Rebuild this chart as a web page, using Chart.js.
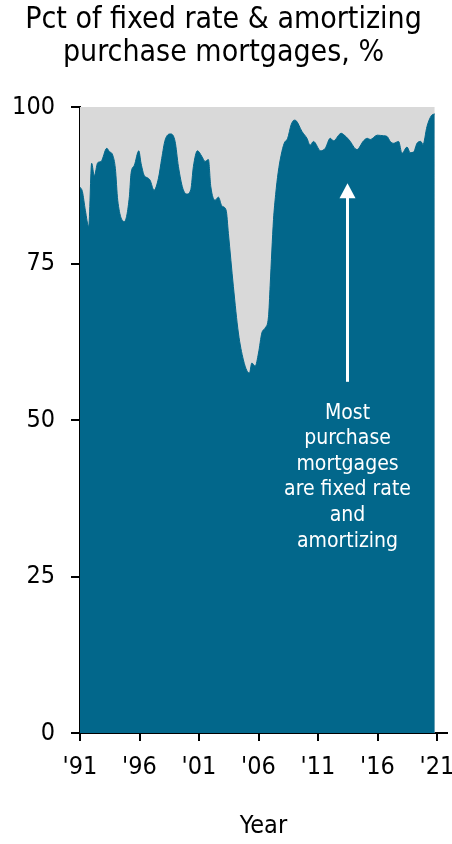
<!DOCTYPE html>
<html>
<head>
<meta charset="utf-8">
<script src="https://cdn.jsdelivr.net/npm/chart.js@4"></script>
<style>
  html, body { margin: 0; padding: 0; background: #fff; }
  #chart { display: block; }
</style>
</head>
<body>
<canvas id="chart" width="452" height="844"></canvas>
<script>
// Share of purchase mortgages that are fixed rate & amortizing
const years = [
  1991.0, 1991.2, 1991.45, 1991.73, 1991.98, 1992.2, 1992.49, 1992.77, 1993.25, 1993.46,
  1993.75, 1993.97, 1994.17, 1994.73, 1995.15, 1995.29, 1995.57, 1995.94, 1996.13, 1996.41,
  1996.66, 1996.89, 1997.22, 1997.59, 1997.87, 1998.15, 1998.63, 1998.99, 1999.27, 1999.64,
  1999.97, 2000.31, 2000.53, 2000.87, 2001.24, 2001.51, 2001.79, 2001.99, 2002.35, 2002.63,
  2002.92, 2003.28, 2003.47, 2003.89, 2004.31, 2004.73, 2005.02, 2005.24, 2005.44, 2005.72,
  2006.0, 2006.28, 2006.56, 2006.84, 2006.98, 2007.12, 2007.26, 2007.44, 2007.65, 2007.9,
  2008.16, 2008.45, 2008.75, 2009.0, 2009.17, 2009.65, 2010.07, 2010.34, 2010.62, 2011.22,
  2011.61, 2012.03, 2012.3, 2012.95, 2013.15, 2013.63, 2014.27, 2014.83, 2015.14, 2015.39,
  2015.98, 2016.51, 2016.8, 2017.07, 2017.35, 2017.77, 2018.06, 2018.48, 2018.75, 2019.03,
  2019.32, 2019.64, 2019.82, 2020.16, 2020.52, 2020.81
];
const fixedPct = [
  87.2, 86.5, 83.5, 80.9, 91.0, 89.0, 91.1, 91.3, 93.4, 92.9,
  92.3, 90.2, 85.1, 81.7, 85.7, 89.4, 90.7, 93.0, 91.0, 89.0,
  88.7, 88.3, 86.7, 88.6, 91.8, 94.7, 95.7, 94.5, 90.5, 87.0,
  86.1, 86.8, 90.5, 93.0, 92.1, 91.3, 91.6, 87.3, 85.1, 85.6,
  84.2, 83.5, 79.8, 71.3, 63.9, 59.6, 57.9, 57.5, 59.1, 58.6,
  60.7, 63.9, 64.7, 66.5, 71.5, 77.0, 82.0, 86.0, 89.5, 92.3,
  94.2, 95.0, 97.2, 97.9, 97.8, 96.1, 95.0, 93.9, 94.5, 93.0,
  93.4, 95.0, 94.6, 95.8, 95.6, 94.7, 93.2, 94.6, 95.0, 94.8,
  95.5, 95.4, 95.3, 94.5, 94.2, 94.5, 92.6, 93.6, 92.7, 92.8,
  94.2, 94.5, 94.0, 96.9, 98.6, 98.9
];
// the grey "rest" band runs up to 100 over the same span
const capYears = [years[0], years[years.length - 1]];
const capValues = [100, 100];

const tickYears = [1991, 1996, 2001, 2006, 2011, 2016, 2021];
const yTicks = [0, 25, 50, 75, 100];
const titleLines = ['Pct of fixed rate & amortizing', 'purchase mortgages, %'];
const noteLines = ['Most', 'purchase', 'mortgages', 'are fixed rate', 'and', 'amortizing'];

const TEAL = '#02678b';
const GREY = '#d9d9d9';
const FONT = "'DejaVu Sans Condensed', 'DejaVu Sans', sans-serif";

// arrow + note, placed in data units
const note = { x: 2013.48, tip: 87.8, base: 56.1, textTop: 51.1, lineGap: 25.6 };

const notePlugin = {
  id: 'note',
  afterDatasetsDraw(chart) {
    const { ctx, scales: { x, y } } = chart;
    const ax = x.getPixelForValue(note.x);
    const tipY = y.getPixelForValue(note.tip);
    const baseY = y.getPixelForValue(note.base);
    ctx.save();
    ctx.strokeStyle = '#fff';
    ctx.fillStyle = '#fff';
    ctx.lineWidth = 3;
    ctx.beginPath();
    ctx.moveTo(ax, baseY);
    ctx.lineTo(ax, tipY + 12);
    ctx.stroke();
    ctx.beginPath();
    ctx.moveTo(ax, tipY);
    ctx.lineTo(ax - 8, tipY + 15);
    ctx.lineTo(ax + 8, tipY + 15);
    ctx.closePath();
    ctx.fill();

    ctx.font = `21px ${FONT}`;
    ctx.textAlign = 'center';
    ctx.textBaseline = 'middle';
    const top = y.getPixelForValue(note.textTop);
    noteLines.forEach((line, i) => ctx.fillText(line, ax, top + i * note.lineGap));
    ctx.restore();
  }
};

new Chart(document.getElementById('chart'), {
  type: 'line',
  data: {
    datasets: [
      {
        data: years.map((yr, i) => ({ x: yr, y: fixedPct[i] })),
        fill: 'origin',
        backgroundColor: TEAL,
        borderColor: TEAL,
        borderWidth: 1,
        pointRadius: 0,
        cubicInterpolationMode: 'monotone',
      },
      {
        data: capYears.map((yr, i) => ({ x: yr, y: capValues[i] })),
        fill: 'origin',
        backgroundColor: GREY,
        borderWidth: 0,
        pointRadius: 0,
      },
    ],
  },
  options: {
    responsive: false,
    animation: false,
    layout: { padding: { left: 0, right: 5, top: 0, bottom: 0 } },
    plugins: {
      legend: { display: false },
      tooltip: { enabled: false },
      title: {
        display: true,
        text: titleLines,
        color: '#000',
        font: { family: FONT, size: 30, weight: 'normal', lineHeight: 1.1 },
        padding: { top: 4, bottom: 37 },
      },
    },
    scales: {
      x: {
        type: 'linear',
        z: 1,
        min: 1991,
        max: 2021.84,
        afterBuildTicks(scale) { scale.ticks = tickYears.map(v => ({ value: v })); },
        afterFit(scale) {
          scale.height = 111;
          scale.paddingLeft = 0;
          scale.paddingRight = 0;
        },
        ticks: {
          autoSkip: false,
          maxRotation: 0,
          padding: 11,
          color: '#000',
          font: { family: FONT, size: 25 },
          callback: v => "'" + String(v).slice(2),
        },
        grid: { drawOnChartArea: false, drawTicks: true, tickLength: 8, color: '#000', lineWidth: 2 },
        border: { display: true, color: '#000', width: 2 },
        title: {
          display: true,
          text: 'Year',
          color: '#000',
          font: { family: FONT, size: 25 },
          padding: { top: 0, bottom: 3 },
        },
      },
      y: {
        z: 1,
        min: 0,
        max: 100,
        afterBuildTicks(scale) { scale.ticks = yTicks.map(v => ({ value: v })); },
        afterFit(scale) { scale.width = 80; },
        ticks: {
          padding: 16,
          color: '#000',
          font: { family: FONT, size: 25 },
        },
        grid: { drawOnChartArea: false, drawTicks: true, tickLength: 9, color: '#000', lineWidth: 2 },
        border: { display: true, color: '#000', width: 2 },
      },
    },
  },
  plugins: [notePlugin],
});
</script>
</body>
</html>
